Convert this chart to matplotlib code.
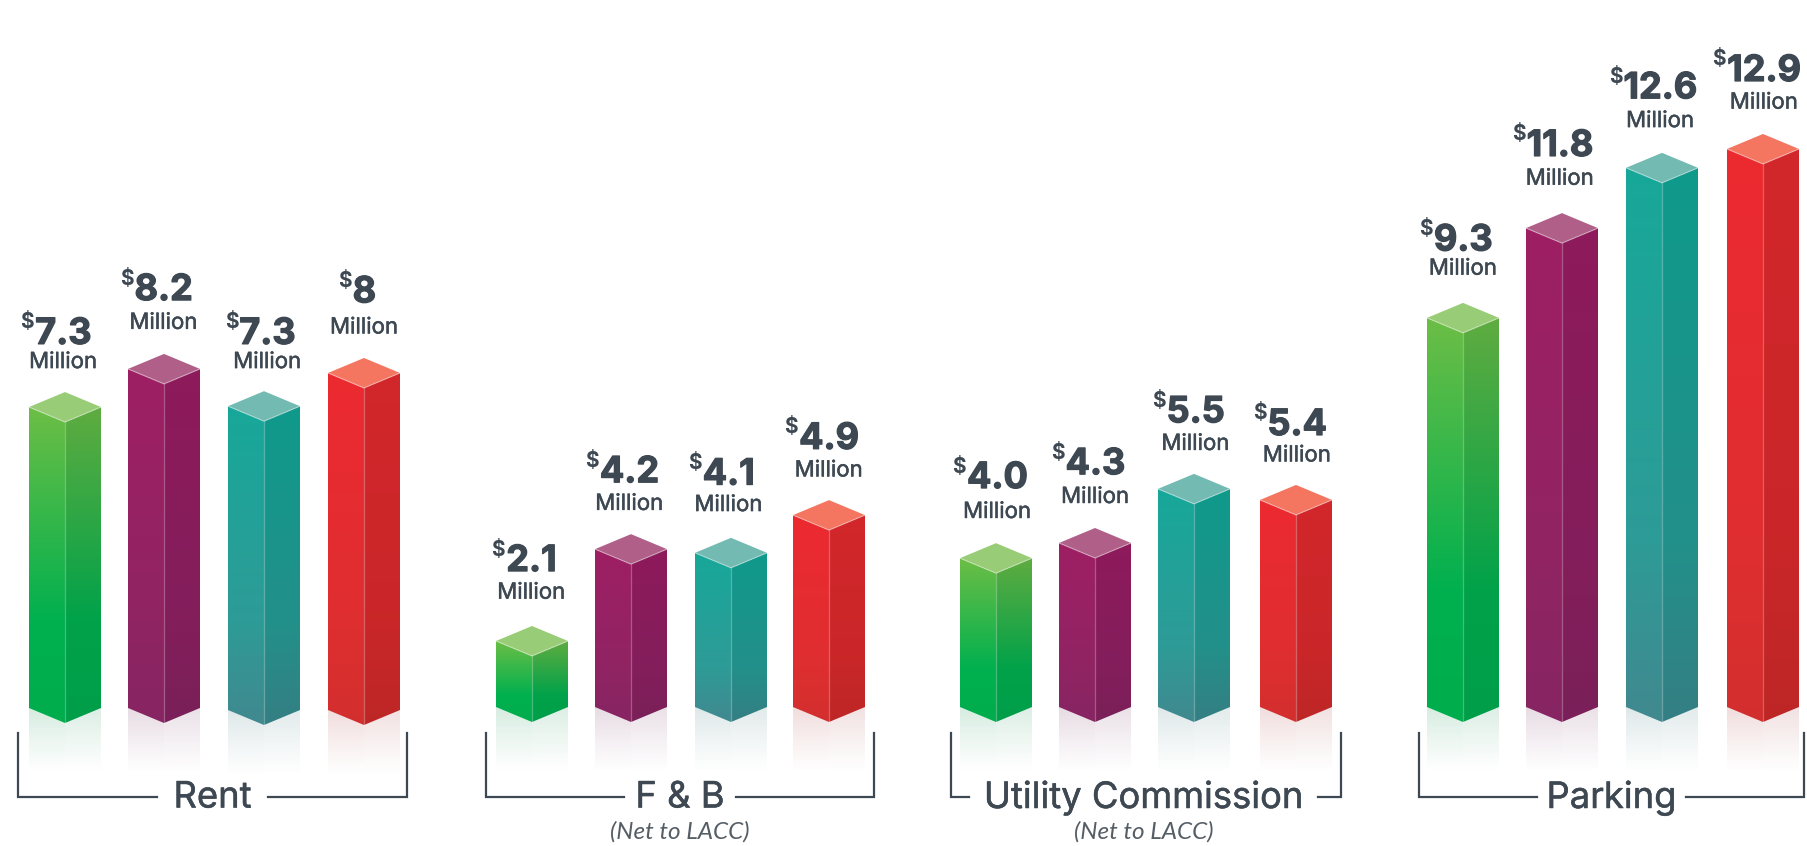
import numpy as np
import matplotlib
matplotlib.use("Agg")
import matplotlib.pyplot as plt
import matplotlib.patheffects as pe
from matplotlib.patches import Polygon
from matplotlib.colors import to_rgb

# ---------- data ----------
groups = ["Rent", "F & B", "Utility Commission", "Parking"]
group_notes = ["", "(Net to LACC)", "(Net to LACC)", ""]
value_labels = [["7.3", "8.2", "7.3", "8"],
                ["2.1", "4.2", "4.1", "4.9"],
                ["4.0", "4.3", "5.5", "5.4"],
                ["9.3", "11.8", "12.6", "12.9"]]
# drawn bar heights as they appear in the picture (roughly $ million)
rent_h = [7.34, 8.27, 7.41, 8.22]
fb_h = [1.61, 3.85, 3.76, 4.68]
utility_h = [3.63, 4.00, 5.32, 5.05]
parking_h = [9.49, 11.68, 13.15, 13.61]
drawn = [rent_h, fb_h, utility_h, parking_h]

# ---------- layout (pixels of the 1808x846 canvas) ----------
W, H = 1808, 846
PX_PER_UNIT = 41.0
BASE_PX = 708
bar_left = [[29, 128, 228, 328], [496, 595, 695, 793],
            [960, 1059, 1158, 1260], [1427, 1526, 1626, 1727]]
bar_w = 72
base_px = [[708, 708, 710, 710], [707, 707, 707, 707],
           [707, 707, 707, 707], [707, 707, 707, 707]]
depth = 15
S = 1808 / 1568
label_x = [[55, 142, 232, 316], [461, 546, 632, 719],
           [865, 950, 1037, 1125], [1269, 1353, 1440, 1530]]
num_y = [[290, 252, 290, 254], [487, 410, 412, 381],
         [415, 403, 358, 369], [209, 127, 77, 62]]
mil_y = [[314, 280, 314, 284], [514, 437, 438, 408],
         [444, 431, 385, 395], [233, 155, 105, 89]]
brackets = [(18, 407, 157, 268), (486, 874, 624, 736),
            (951, 1341, 969, 1318), (1419, 1804, 1537, 1686)]
br_top, br_bot = 733, 797

# colours: left face top/mid/bottom, right face top/mid/bottom, cap
palette = [
    (("#6CBE45", "#00B04F", "#00AD4C"), ("#5FAC40", "#00A24A", "#009E49"), "#99CC77"),
    (("#9E1F63", "#912463", "#872562"), ("#8E1A5C", "#841E5B", "#7A2059"), "#B06088"),
    (("#17A89A", "#2E9B97", "#40898F"), ("#0F9A8C", "#23908A", "#347F83"), "#72BAB2"),
    (("#EC2A30", "#E02E30", "#D32F2E"), ("#D2262B", "#CA2729", "#BE2626"), "#F47560"),
]
INK = "#3D4852"
NUM_FONT = ["Inter", "DejaVu Sans"]
MIL_FONT = ["Inter", "DejaVu Sans"]

fig = plt.figure(figsize=(W / 100, H / 100), dpi=100, facecolor="white")
ax = fig.add_axes([0, 0, 1, 1])
ax.set_xlim(0, W)
ax.set_ylim(-(H - BASE_PX) / PX_PER_UNIT, BASE_PX / PX_PER_UNIT)
ax.axis("off")
ax.set_autoscale_on(False)
ax_px = fig.add_axes([0, 0, 1, 1], facecolor="none")
ax_px.set_xlim(0, W)
ax_px.set_ylim(H, 0)
ax_px.axis("off")


def grad(stops, n=128):
    pos = [0, 0.68, 1]
    c = np.array([to_rgb(s) for s in stops])
    t = np.linspace(0, 1, n)
    return np.stack([np.interp(t, pos, c[:, i]) for i in range(3)], 1)[:, None, :]


def face(poly, x0, x1, y0, y1, img, z):
    im = ax.imshow(img, extent=(x0, x1, y0, y1), origin="upper", aspect="auto",
                   zorder=z, interpolation="bilinear")
    im.set_clip_path(Polygon(poly, transform=ax.transData))


d = depth / PX_PER_UNIT
for g in range(4):
    for b in range(4):
        left, right, mid = bar_left[g][b], bar_left[g][b] + bar_w, bar_left[g][b] + bar_w / 2
        y0 = (BASE_PX - base_px[g][b]) / PX_PER_UNIT
        y1 = y0 + drawn[g][b]
        lc, rc, cap = palette[b]
        # reflection
        refl_h = 66 / PX_PER_UNIT
        for (a, e, col, k) in ((left, mid, lc[2], 1.0), (mid, right, rc[2], 0.85)):
            rgb = np.array(to_rgb(col))
            rgb = rgb * 0.75 + 0.25 * np.array(to_rgb(INK))
            t = np.linspace(0, 1, 64)
            img = np.zeros((64, 1, 4))
            img[..., :3] = rgb
            img[:, 0, 3] = 0.17 * k * (1 - t) ** 1.1
            ax.imshow(img, extent=(a, e, y0 - refl_h, y0), origin="upper", aspect="auto",
                      zorder=1, interpolation="bilinear")
        # faces
        face([(left, y1), (mid, y1 - d), (mid, y0 - d), (left, y0)],
             left, mid, y0 - d, y1, grad(lc), 2)
        face([(mid, y1 - d), (right, y1), (right, y0), (mid, y0 - d)],
             mid, right, y0 - d, y1, grad(rc), 2)
        ax.add_patch(Polygon([(left, y1), (mid, y1 + d), (right, y1), (mid, y1 - d)],
                             facecolor=cap, edgecolor="none", zorder=3))
        # pale highlight edges
        ax.plot([left, mid, right], [y1, y1 - d, y1], color="white", alpha=0.35, lw=0.9, zorder=4)
        ax.plot([mid, mid], [y1 - d, y0 - d], color="white", alpha=0.28, lw=0.9, zorder=4)

# labels
fig.canvas.draw()
renderer = fig.canvas.get_renderer()
heavy = [pe.withStroke(linewidth=0.9, foreground=INK)]
medium = [pe.withStroke(linewidth=0.35, foreground=INK)]
for g in range(4):
    for b in range(4):
        x = label_x[g][b] * S
        t = ax_px.text(x, num_y[g][b] * S, value_labels[g][b], family=NUM_FONT, weight="bold",
                       fontsize=26, color=INK, ha="center", va="center", path_effects=heavy)
        bb = t.get_window_extent(renderer)
        ax_px.text(bb.x0 - 1, num_y[g][b] * S - 12, "$", family=NUM_FONT, weight="bold",
                   fontsize=15, color=INK, ha="right", va="center")
        ax_px.text(x, mil_y[g][b] * S, "Million", family=MIL_FONT, fontsize=16,
                   color=INK, ha="center", va="center", path_effects=medium)

# brackets and group names
for g, (x0, x1, g0, g1) in enumerate(brackets):
    ax_px.plot([x0, x0, g0], [br_top, br_bot, br_bot], color=INK, lw=1.6, solid_joinstyle="miter")
    ax_px.plot([g1, x1, x1], [br_bot, br_bot, br_top], color=INK, lw=1.6, solid_joinstyle="miter")
    ax_px.text((g0 + g1) / 2, br_bot + 1, groups[g], family=MIL_FONT, fontsize=26.2, color=INK,
               ha="center", va="center", path_effects=medium)
    if group_notes[g]:
        ax_px.text((g0 + g1) / 2, 832, group_notes[g], family=["Lato", "DejaVu Sans"], style="italic",
                   fontsize=17.5, color="#555D65", ha="center", va="center")

fig.savefig("out.png", dpi=100)
